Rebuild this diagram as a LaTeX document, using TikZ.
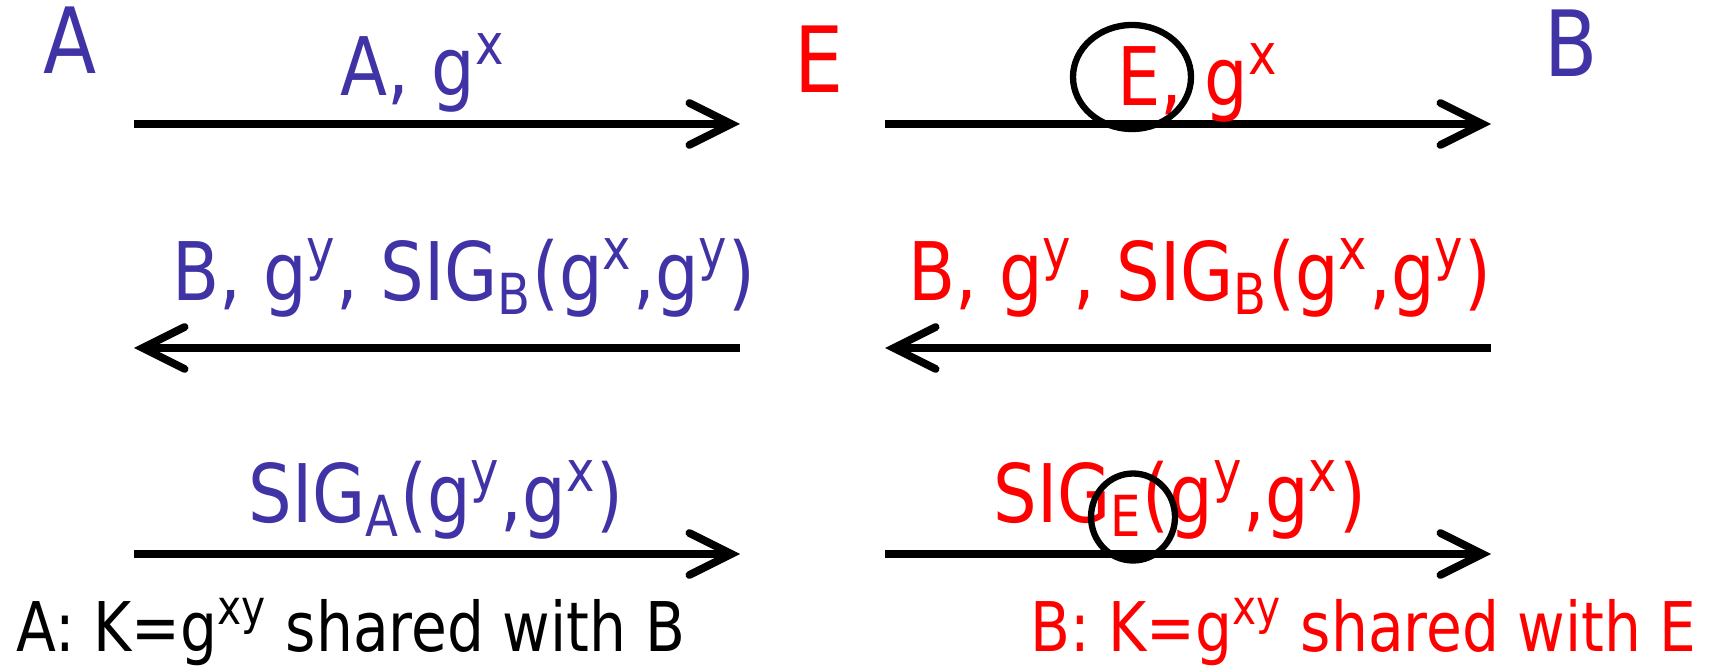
\documentclass[tikz,border=0pt]{standalone}
\usepackage{fontspec}
\setmainfont{DejaVu Sans}[FakeStretch=0.85]
\usetikzlibrary{arrows.meta, positioning, shapes.geometric}

\definecolor{honest}{RGB}{64,51,166}
\definecolor{eve}{RGB}{255,0,0}

\newcommand{\gsup}[1]{g\textsuperscript{#1}}

\begin{document}
\begin{tikzpicture}[x=0.1mm, y=-0.1mm,
    party/.style={font=\fontsize{26}{30}\selectfont, anchor=base},
    msg/.style={font=\fontsize{23}{27}\selectfont, anchor=base},
    note/.style={font=\fontsize{19.5}{23}\selectfont, anchor=base},
    flow/.style={line width=2.2pt, -{Straight Barb[length=4.2mm, width=4.2mm, line cap=round]}},
    ring/.style={draw, ellipse, line width=1.8pt, inner sep=0pt}]
        \useasboundingbox (0,0) rectangle (1717,667);
        % parties
        \node[party, honest] (A) at (70,74) {A};
        \node[party, eve] (E) at (819,93) {E};
        \node[party, honest] (B) at (1571,77) {B};
        % arrow ends
        \coordinate (l1) at (134,124); \coordinate (r1) at (740,124);
        \coordinate (l2) at (885,124); \coordinate (r2) at (1491,124);
        \coordinate (l3) at (134,348); \coordinate (r3) at (740,348);
        \coordinate (l4) at (885,348); \coordinate (r4) at (1491,348);
        \coordinate (l5) at (134,554); \coordinate (r5) at (740,554);
        \coordinate (l6) at (885,554); \coordinate (r6) at (1491,554);
        % messages A - E
        \draw[flow] (l1) -- (r1); \node[msg, honest] (m1) at (423,96) {A, \gsup{x}};
        \draw[flow] (r3) -- (l3); \node[msg, honest] (m3) at (464,301) {B, \gsup{y}, SIG\textsubscript{B}(\gsup{x},\gsup{y})};
        \draw[flow] (l5) -- (r5); \node[msg, honest] (m5) at (436,523) {SIG\textsubscript{A}(\gsup{y},\gsup{x})};
        % messages E - B
        \draw[flow] (l2) -- (r2); \node[msg, eve, anchor=base west] (m2) at (1105,106) {E, \gsup{x}};
        \draw[flow] (r4) -- (l4); \node[msg, eve] (m4) at (1200,301) {B, \gsup{y}, SIG\textsubscript{B}(\gsup{x},\gsup{y})};
        \draw[flow] (l6) -- (r6); \node[msg, eve, anchor=base west] (m6) at (981,523) {SIG\textsubscript{E}(\gsup{y},\gsup{x})};
        % forged parts
        \node[ring, minimum width=11.8mm, minimum height=10.4mm] (c1) at (1132,77) {};
        \node[ring, minimum width=8.4mm, minimum height=8.7mm] (c2) at (1133,517) {};
        % keys
        \node[note, anchor=base west] (kA) at (4,651) {A: K=\gsup{xy} shared with B};
        \node[note, eve, anchor=base east] (kB) at (1709,651) {B: K=\gsup{xy} shared with E};
\end{tikzpicture}
\end{document}
